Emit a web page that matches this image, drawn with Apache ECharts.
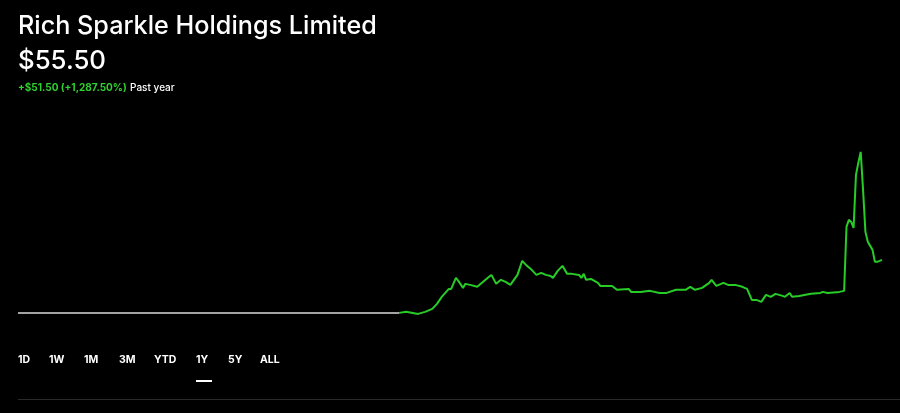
<!DOCTYPE html>
<html>
<head>
<meta charset="utf-8">
<script src="https://cdn.jsdelivr.net/npm/echarts@6/dist/echarts.min.js"></script>
<style>
  html, body { margin: 0; padding: 0; background: #000; }
  #chart { width: 900px; height: 413px; }
</style>
</head>
<body>
<div id="chart"></div>
<script>
// ---- data (day offset within the past year, price in USD) ----
const companyName = "Rich Sparkle Holdings Limited";
const lastPrice = "$55.50";
const changeText = "+$51.50 (+1,287.50%)";
const periodText = "Past year";
const rangeLabels = ["1D", "1W", "1M", "3M", "YTD", "1Y", "5Y", "ALL"];
const activeRange = "1Y";

// flat reference segment before trading started
const preDays   = [0, 161];
const prePrices = [4.0, 4.0];

// traded price path
const days = [161,164,169,172,175,177,179,182,183,185,186,188,189,191,194,196,199,200,202,204,206,208,211,213,215,217,219,221,223,225,226,228,230,232,234,237,238,239,240,242,245,246,251,253,258,259,263,267,271,274,278,282,284,286,289,292,293,295,298,300,303,306,308,310,312,314,316,318,320,323,324,326,327,330,335,339,340,342,347,349,350,351,352,353,354,355,356,357,358,359,360,361,362,363,364,365];
const prices = [4.0,5.0,3.0,5.0,7.9,12.8,19.6,27.3,27.3,38.0,35.1,28.3,32.2,31.2,29.3,33.2,39.0,40.9,32.2,36.1,34.1,31.2,40.9,54.5,49.7,45.8,40.9,42.9,40.9,39.9,38.0,44.8,49.7,41.9,41.9,40.9,38.0,41.9,36.1,37.0,33.2,30.2,30.2,26.4,27.3,24.4,24.4,25.4,23.4,23.4,26.4,26.4,29.3,26.4,28.3,33.2,36.1,30.2,33.2,31.2,31.2,29.3,27.3,16.6,16.6,14.7,21.5,19.6,22.5,20.5,19.6,23.4,19.6,20.5,22.5,23.4,24.4,23.4,24.4,25.4,87.6,94.4,92.4,86.6,138.1,149.8,160.4,123.5,82.7,73.0,69.1,65.2,53.6,53.6,54.5,55.5];

const chart = echarts.init(document.getElementById('chart'), null, { renderer: 'canvas' });
const FONT = 'Inter, "Noto Sans", sans-serif';

const pair = (xs, ys) => xs.map((x, i) => [x, ys[i]]);

// range selector labels
const labelX = [18, 49, 84, 119, 154, 196, 228, 260];
const rangeGraphics = rangeLabels.map((t, i) => ({
  type: 'text',
  left: labelX[i],
  top: 354,
  style: { text: t, fill: '#ffffff', font: 'bold 10.5px ' + FONT, letterSpacing: 1.8 }
}));

const option = {
  backgroundColor: '#000000',
  animation: false,
  grid: { left: 18, right: 18, top: 142, height: 175, containLabel: false },
  xAxis: { type: 'value', min: 0, max: 365, show: false },
  yAxis: { type: 'value', min: 0, max: 170, show: false },
  series: [
    {
      type: 'line', data: pair(preDays, prePrices), symbol: 'none',
      lineStyle: { color: '#a3a3a3', width: 2 }, silent: true
    },
    {
      type: 'line', data: pair(days, prices), symbol: 'none',
      lineStyle: { color: '#27cc27', width: 2 }, silent: true
    }
  ],
  graphic: [
    { type: 'text', left: 18, top: 14,
      style: { text: companyName, fill: '#ffffff', font: '500 25.2px ' + FONT } },
    { type: 'text', left: 18, top: 48,
      style: { text: lastPrice, fill: '#ffffff', font: '500 25.8px ' + FONT } },
    { type: 'text', left: 18, top: 82,
      style: {
        text: '{g|' + changeText + '} {w|' + periodText + '}',
        rich: {
          g: { fill: '#2fd12f', font: 'bold 10px ' + FONT },
          w: { fill: '#ffffff', font: '500 10px ' + FONT }
        }
      } },
    ...rangeGraphics,
    { type: 'rect', left: 196, top: 380, shape: { width: 16, height: 2 },
      style: { fill: '#ffffff' } },
    { type: 'rect', left: 18, top: 399, shape: { width: 882, height: 1 },
      style: { fill: '#2a2a2a' } }
  ]
};
chart.setOption(option);
</script>
</body>
</html>
